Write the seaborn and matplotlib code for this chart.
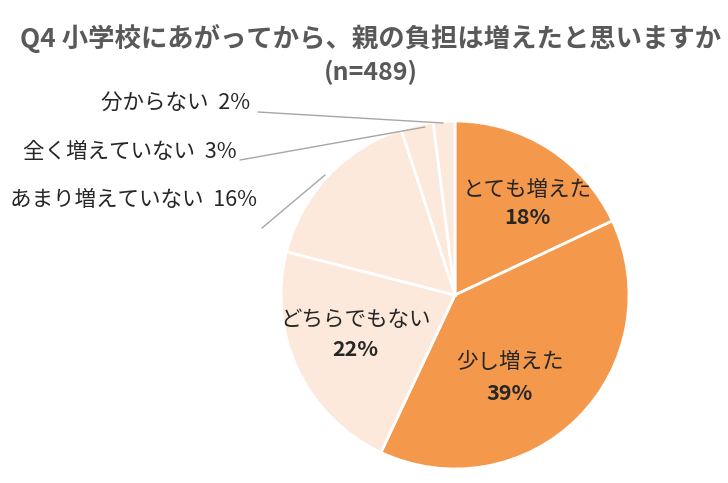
import matplotlib.pyplot as plt
import seaborn as sns

sns.set_theme(style="white", font="Noto Sans CJK JP")

# data
labels = ["とても増えた", "少し増えた", "どちらでもない", "あまり増えていない", "全く増えていない", "分からない"]
values = [18, 39, 22, 16, 3, 2]
colors = ["#F4984C", "#F4984C", "#FCE9DC", "#FCE9DC", "#FCE9DC", "#FCE9DC"]

H = 483
fig = plt.figure(figsize=(7.28, 4.83), dpi=100)
ax = fig.add_axes([0, 0, 1, 1])

cx, cy, r = 455, H - 295, 174
ax.pie(values, colors=colors, startangle=90, counterclock=False,
       center=(cx, cy), radius=r, frame=True,
       wedgeprops=dict(edgecolor="white", linewidth=2))
ax.set_xlim(0, 728)
ax.set_ylim(0, H)
ax.set_aspect("equal")
ax.axis("off")

grey = "#595959"
ax.text(371, H - 38, "Q4 小学校にあがってから、親の負担は増えたと思いますか",
        ha="center", va="center", fontsize=19, fontweight="bold", color=grey)
ax.text(371, H - 72, "(n=489)", ha="center", va="center",
        fontsize=18, fontweight="bold", color=grey)

# inside labels
inside = [(527, 190, 218), (510, 362, 393), (355, 320, 350)]
for i, (x, y1, y2) in enumerate(inside):
    ax.text(x, H - y1, labels[i], ha="center", va="center", fontsize=15.5, color="#262626")
    ax.text(x, H - y2, f"{values[i]}%", ha="center", va="center",
            fontsize=15.5, fontweight="bold", color="#262626")

# outside labels with leader lines
outside = [
    (5, 250, 103, [(258, 112), (443, 123)]),
    (4, 237, 152, [(240, 160), (425, 127)]),
    (3, 257, 200, [(262, 228), (325, 175)]),
]
for i, xr, y, pts in outside:
    ax.text(xr, H - y, f"{labels[i]}  {values[i]}%", ha="right", va="center",
            fontsize=15.5, color="#262626")
    ax.plot([p[0] for p in pts], [H - p[1] for p in pts], color="#A6A6A6", lw=1)

fig.savefig("out.png", dpi=100, facecolor="white")
